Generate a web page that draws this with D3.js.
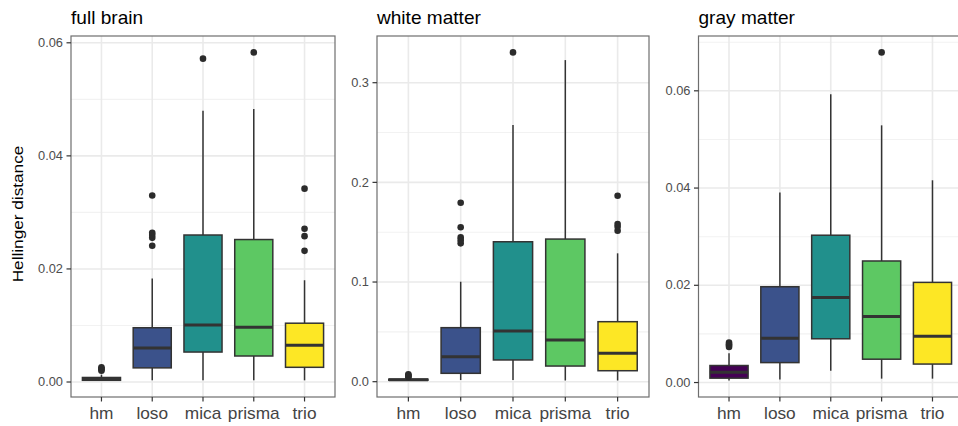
<!DOCTYPE html>
<html>
<head>
<meta charset="utf-8">
<script src="https://cdn.jsdelivr.net/npm/d3@7"></script>
<style>
  html, body { margin: 0; padding: 0; background: #fff; }
  svg { display: block; font-family: "Liberation Sans", Arial, sans-serif; }
</style>
</head>
<body>
<svg id="chart" width="958" height="426"></svg>
<script>
// ---------------- data ----------------
const categories = ["hm", "loso", "mica", "prisma", "trio"];
const panelTitles = ["full brain", "white matter", "gray matter"];
const yAxisTitle = "Hellinger distance";
const colors = ["#440154", "#3B528B", "#21908C", "#5DC863", "#FDE725"];

// full brain
const fullLow  = [0.00025, 0.0003, 0.0003, 0.0003, 0.0003];
const fullQ1   = [0.0003, 0.0025, 0.0053, 0.0046, 0.0026];
const fullMed  = [0.0005, 0.0060, 0.0101, 0.0097, 0.0065];
const fullQ3   = [0.0008, 0.0096, 0.0260, 0.0252, 0.0104];
const fullHigh = [0.0013, 0.0183, 0.0480, 0.0483, 0.0180];
const fullOut  = [[0.0020, 0.0022, 0.0024, 0.0026], [0.0241, 0.0255, 0.0260, 0.0264, 0.0330], [0.0572], [0.0583], [0.0232, 0.0258, 0.0271, 0.0342]];
const fullTicks = [0, 0.02, 0.04, 0.06];
const fullMinor = [0.01, 0.03, 0.05];

// white matter
const whiteLow  = [0.0011, 0.0017, 0.0017, 0.0012, 0.0012];
const whiteQ1   = [0.0015, 0.0084, 0.0218, 0.0157, 0.0110];
const whiteMed  = [0.0019, 0.0250, 0.0509, 0.0418, 0.0285];
const whiteQ3   = [0.0025, 0.0542, 0.1404, 0.1431, 0.0602];
const whiteHigh = [0.0038, 0.1003, 0.2575, 0.3227, 0.1288];
const whiteOut  = [[0.0045, 0.0055, 0.0065, 0.0074], [0.1388, 0.1420, 0.1448, 0.1549, 0.1795], [0.3304], [], [0.1515, 0.1555, 0.1582, 0.1866]];
const whiteTicks = [0, 0.1, 0.2, 0.3];
const whiteMinor = [0.05, 0.15, 0.25];

// gray matter
const grayLow  = [0.0004, 0.0006, 0.0024, 0.0008, 0.0008];
const grayQ1   = [0.0009, 0.0041, 0.0090, 0.0048, 0.0038];
const grayMed  = [0.0021, 0.0091, 0.0175, 0.0136, 0.0095];
const grayQ3   = [0.0035, 0.0197, 0.0303, 0.0250, 0.0206];
const grayHigh = [0.0060, 0.0391, 0.0593, 0.0529, 0.0416];
const grayOut  = [[0.0073, 0.0076, 0.0079, 0.0082], [], [], [0.0679], []];
const grayTicks = [0, 0.02, 0.04, 0.06];
const grayMinor = [0.01, 0.03, 0.05, 0.07];

// ---------------- layout ----------------
const panels = [
  { title: panelTitles[0], low: fullLow, q1: fullQ1, med: fullMed, q3: fullQ3, high: fullHigh, out: fullOut, ticks: fullTicks, minor: fullMinor, fmt: ".2f", left: 71, right: 335 },
  { title: panelTitles[1], low: whiteLow, q1: whiteQ1, med: whiteMed, q3: whiteQ3, high: whiteHigh, out: whiteOut, ticks: whiteTicks, minor: whiteMinor, fmt: ".1f", left: 377, right: 649 },
  { title: panelTitles[2], low: grayLow, q1: grayQ1, med: grayMed, q3: grayQ3, high: grayHigh, out: grayOut, ticks: grayTicks, minor: grayMinor, fmt: ".2f", left: 698.5, right: 963 }
];
const plotTop = 36, plotBottom = 397;

const svg = d3.select("#chart");
svg.append("rect").attr("width", 958).attr("height", 426).attr("fill", "#fff");

function stretchText(sel, x, y, str, size, sx, anchor, rotate, color) {
  return sel.append("text")
    .attr("transform", `translate(${x},${y})` + (rotate ? ` rotate(${rotate})` : "") + ` scale(${sx},1)`)
    .attr("text-anchor", anchor)
    .attr("font-size", size)
    .attr("fill", color)
    .text(str);
}

panels.forEach((p, pi) => {
  const allVals = p.low.concat(p.high, p.out.flat());
  const mn = d3.min(allVals), mx = d3.max(allVals);
  const pad = (mx - mn) * 0.05;
  const y = d3.scaleLinear().domain([mn - pad, mx + pad]).range([plotBottom, plotTop]);
  const x = d3.scalePoint().domain(categories).range([p.left, p.right]).padding(0.6);
  const bw = x.step() * 0.75;

  const g = svg.append("g");

  // minor grid
  g.selectAll(".minor").data(p.minor.filter(v => y(v) >= plotTop && y(v) <= plotBottom)).join("line")
    .attr("x1", p.left).attr("x2", p.right)
    .attr("y1", d => y(d)).attr("y2", d => y(d))
    .attr("stroke", "#F2F2F2").attr("stroke-width", 1.1);
  // major grid
  g.selectAll(".majorY").data(p.ticks).join("line")
    .attr("x1", p.left).attr("x2", p.right)
    .attr("y1", d => y(d)).attr("y2", d => y(d))
    .attr("stroke", "#EAEAEA").attr("stroke-width", 1.6);
  g.selectAll(".majorX").data(categories).join("line")
    .attr("x1", d => x(d)).attr("x2", d => x(d))
    .attr("y1", plotTop).attr("y2", plotBottom)
    .attr("stroke", "#EAEAEA").attr("stroke-width", 1.6);

  // boxes
  const data = categories.map((c, i) => ({ c, i, low: p.low[i], q1: p.q1[i], med: p.med[i], q3: p.q3[i], high: p.high[i], out: p.out[i] }));
  const bg = g.selectAll(".box").data(data).join("g");
  bg.append("line")
    .attr("x1", d => x(d.c)).attr("x2", d => x(d.c))
    .attr("y1", d => y(d.high)).attr("y2", d => y(d.q3))
    .attr("stroke", "#333").attr("stroke-width", 1.5);
  bg.append("line")
    .attr("x1", d => x(d.c)).attr("x2", d => x(d.c))
    .attr("y1", d => y(d.q1)).attr("y2", d => y(d.low))
    .attr("stroke", "#333").attr("stroke-width", 1.5);
  bg.append("rect")
    .attr("x", d => x(d.c) - bw / 2).attr("width", bw)
    .attr("y", d => y(d.q3)).attr("height", d => Math.max(0.1, y(d.q1) - y(d.q3)))
    .attr("fill", d => colors[d.i]).attr("stroke", "#333").attr("stroke-width", 1.5);
  bg.append("line")
    .attr("x1", d => x(d.c) - bw / 2).attr("x2", d => x(d.c) + bw / 2)
    .attr("y1", d => y(d.med)).attr("y2", d => y(d.med))
    .attr("stroke", "#333").attr("stroke-width", 3);
  bg.selectAll("circle").data(d => d.out.map(v => ({ c: d.c, v }))).join("circle")
    .attr("cx", d => x(d.c)).attr("cy", d => y(d.v)).attr("r", 3.3)
    .attr("fill", "#2b2b2b");

  // border
  g.append("rect")
    .attr("x", p.left).attr("y", plotTop).attr("width", p.right - p.left).attr("height", plotBottom - plotTop)
    .attr("fill", "none").attr("stroke", "#6e6e6e").attr("stroke-width", 1.2);

  // y axis ticks + labels
  const yt = g.selectAll(".yt").data(p.ticks).join("g").attr("transform", d => `translate(${p.left},${y(d)})`);
  yt.append("line").attr("x1", -4.5).attr("x2", 0).attr("stroke", "#333").attr("stroke-width", 1.2);
  yt.each(function (d) {
    stretchText(d3.select(this), -8, 4.2, d3.format(p.fmt)(d), 12, 1.07, "end", 0, "#4D4D4D");
  });

  // x axis ticks + labels
  const xt = g.selectAll(".xt").data(categories).join("g").attr("transform", d => `translate(${x(d)},${plotBottom})`);
  xt.append("line").attr("y1", 0).attr("y2", 4.5).attr("stroke", "#333").attr("stroke-width", 1.2);
  xt.each(function (d) {
    stretchText(d3.select(this), 0, 21.5, d, 16, 1.08, "middle", 0, "#444");
  });

  // title
  stretchText(g, p.left, 24, p.title, 17.5, 1.09, "start", 0, "#000");
});

// y axis title
stretchText(svg, 23, 214, yAxisTitle, 15.5, 1.11, "middle", -90, "#000");
</script>
</body>
</html>
